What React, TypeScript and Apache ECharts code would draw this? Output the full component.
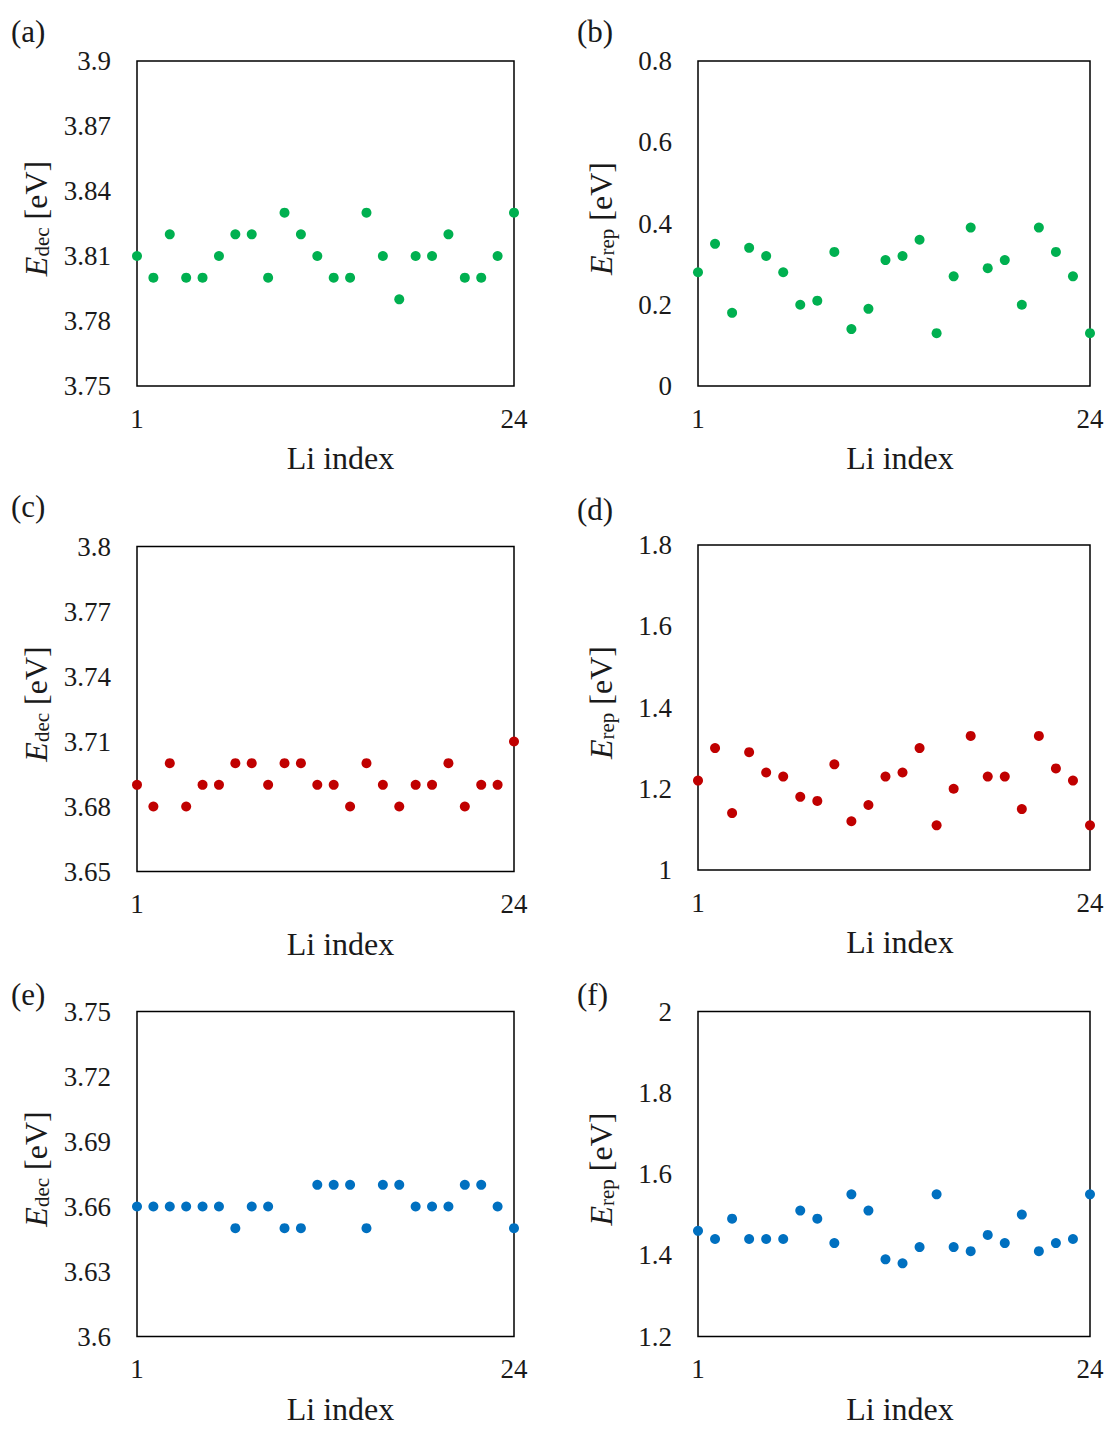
import React, { useEffect, useRef } from "react";
import * as echarts from "echarts";

// ---------------- data ----------------
const liIndex = ["1", "2", "3", "4", "5", "6", "7", "8", "9", "10", "11", "12",
  "13", "14", "15", "16", "17", "18", "19", "20", "21", "22", "23", "24"];

const edecA = [3.81, 3.80, 3.82, 3.80, 3.80, 3.81, 3.82, 3.82, 3.80, 3.83, 3.82, 3.81,
  3.80, 3.80, 3.83, 3.81, 3.79, 3.81, 3.81, 3.82, 3.80, 3.80, 3.81, 3.83];
const erepB = [0.28, 0.35, 0.18, 0.34, 0.32, 0.28, 0.20, 0.21, 0.33, 0.14, 0.19, 0.31,
  0.32, 0.36, 0.13, 0.27, 0.39, 0.29, 0.31, 0.20, 0.39, 0.33, 0.27, 0.13];
const edecC = [3.69, 3.68, 3.70, 3.68, 3.69, 3.69, 3.70, 3.70, 3.69, 3.70, 3.70, 3.69,
  3.69, 3.68, 3.70, 3.69, 3.68, 3.69, 3.69, 3.70, 3.68, 3.69, 3.69, 3.71];
const erepD = [1.22, 1.30, 1.14, 1.29, 1.24, 1.23, 1.18, 1.17, 1.26, 1.12, 1.16, 1.23,
  1.24, 1.30, 1.11, 1.20, 1.33, 1.23, 1.23, 1.15, 1.33, 1.25, 1.22, 1.11];
const edecE = [3.66, 3.66, 3.66, 3.66, 3.66, 3.66, 3.65, 3.66, 3.66, 3.65, 3.65, 3.67,
  3.67, 3.67, 3.65, 3.67, 3.67, 3.66, 3.66, 3.66, 3.67, 3.67, 3.66, 3.65];
const erepF = [1.46, 1.44, 1.49, 1.44, 1.44, 1.44, 1.51, 1.49, 1.43, 1.55, 1.51, 1.39,
  1.38, 1.42, 1.55, 1.42, 1.41, 1.45, 1.43, 1.50, 1.41, 1.43, 1.44, 1.55];

const panelLabels = ["(a)", "(b)", "(c)", "(d)", "(e)", "(f)"];

const yMinA = 3.75, yMaxA = 3.9, yStepA = 0.03;
const yMinB = 0, yMaxB = 0.8, yStepB = 0.2;
const yMinC = 3.65, yMaxC = 3.8, yStepC = 0.03;
const yMinD = 1, yMaxD = 1.8, yStepD = 0.2;
const yMinE = 3.6, yMaxE = 3.75, yStepE = 0.03;
const yMinF = 1.2, yMaxF = 2, yStepF = 0.2;

const GREEN = "#00B050";
const RED = "#C00000";
const BLUE = "#0070C0";

// ---------------- layout / style ----------------
const FONT = "'Liberation Serif', 'Times New Roman', serif";
const TEXT = "#1a1a1a";

const panels = [
  { label: panelLabels[0], data: edecA, color: GREEN, min: yMinA, max: yMaxA, step: yStepA, kind: "dec",
    grid: { left: 137, top: 61, width: 377, height: 325 }, lab: { left: 11, top: 16 } },
  { label: panelLabels[1], data: erepB, color: GREEN, min: yMinB, max: yMaxB, step: yStepB, kind: "rep",
    grid: { left: 698, top: 61, width: 392, height: 325 }, lab: { left: 577, top: 16 } },
  { label: panelLabels[2], data: edecC, color: RED, min: yMinC, max: yMaxC, step: yStepC, kind: "dec",
    grid: { left: 137, top: 546.5, width: 377, height: 325 }, lab: { left: 11, top: 491 } },
  { label: panelLabels[3], data: erepD, color: RED, min: yMinD, max: yMaxD, step: yStepD, kind: "rep",
    grid: { left: 698, top: 545, width: 392, height: 325 }, lab: { left: 577, top: 494 } },
  { label: panelLabels[4], data: edecE, color: BLUE, min: yMinE, max: yMaxE, step: yStepE, kind: "dec",
    grid: { left: 137, top: 1011.5, width: 377, height: 325 }, lab: { left: 11, top: 979 } },
  { label: panelLabels[5], data: erepF, color: BLUE, min: yMinF, max: yMaxF, step: yStepF, kind: "rep",
    grid: { left: 698, top: 1011.5, width: 392, height: 325 }, lab: { left: 577, top: 979 } },
];

function buildOption() {
  const grids: any[] = [];
  const xAxes: any[] = [];
  const yAxes: any[] = [];
  const series: any[] = [];
  const titles: any[] = [];

  panels.forEach((p, i) => {
    const isLeft = p.kind === "dec";
    grids.push({
      ...p.grid,
      show: true,
      borderColor: "#000",
      borderWidth: 1.5,
      backgroundColor: "transparent",
      containLabel: false,
    });
    xAxes.push({
      type: "category",
      gridIndex: i,
      data: liIndex,
      boundaryGap: false,
      axisLine: { show: false },
      axisTick: { show: false },
      splitLine: { show: false },
      axisLabel: {
        interval: (idx: number) => idx === 0 || idx === liIndex.length - 1,
        fontSize: 27,
        fontFamily: FONT,
        color: TEXT,
        margin: 19,
      },
      name: "Li index",
      nameLocation: "middle",
      nameGap: 56,
      nameTextStyle: {
        fontSize: 32,
        fontFamily: FONT,
        color: TEXT,
        padding: isLeft ? [0, 0, 0, 30] : [0, 0, 0, 12],
      },
    });
    yAxes.push({
      type: "value",
      gridIndex: i,
      min: p.min,
      max: p.max,
      interval: p.step,
      axisLine: { show: false },
      axisTick: { show: false },
      splitLine: { show: false },
      axisLabel: {
        fontSize: 27,
        fontFamily: FONT,
        color: TEXT,
        margin: 26,
      },
      name: `{e|E}{s|${p.kind}} {n|[eV]}`,
      nameLocation: "middle",
      nameRotate: 90,
      nameGap: isLeft ? 85 : 81,
      nameTextStyle: {
        fontFamily: FONT,
        color: TEXT,
        fontSize: 32,
        padding: [0, 0, 0, 10],
        rich: {
          e: { fontSize: 32, fontStyle: "italic", fontFamily: FONT, color: TEXT, lineHeight: 32 },
          s: { fontSize: 21, fontFamily: FONT, color: TEXT, verticalAlign: "bottom", lineHeight: 10 },
          n: { fontSize: 32, fontFamily: FONT, color: TEXT, lineHeight: 32 },
        },
      },
    });
    series.push({
      type: "scatter",
      xAxisIndex: i,
      yAxisIndex: i,
      data: p.data,
      symbol: "circle",
      symbolSize: 10,
      clip: false,
      itemStyle: { color: p.color, opacity: 1 },
    });
    titles.push({
      text: p.label,
      left: p.lab.left,
      top: p.lab.top,
      padding: 0,
      textStyle: { fontSize: 31, fontWeight: "normal", fontFamily: FONT, color: TEXT },
    });
  });

  return {
    animation: false,
    backgroundColor: "#fff",
    title: titles,
    grid: grids,
    xAxis: xAxes,
    yAxis: yAxes,
    series,
  };
}

export default function App() {
  const ref = useRef<HTMLDivElement>(null);
  useEffect(() => {
    document.body.style.margin = "0";
    if (!ref.current) return;
    const chart = echarts.init(ref.current, undefined, { renderer: "svg" });
    chart.setOption(buildOption() as any);
    return () => chart.dispose();
  }, []);
  return <div ref={ref} style={{ width: 1108, height: 1434 }} />;
}
